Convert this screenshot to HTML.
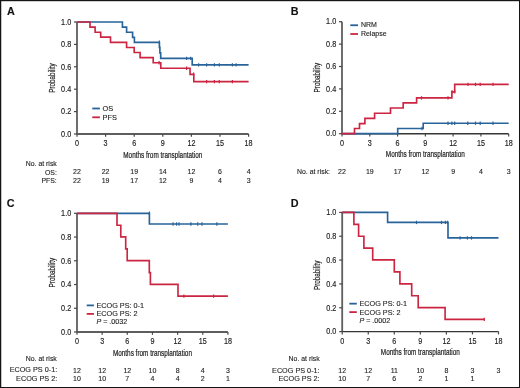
<!DOCTYPE html>
<html><head><meta charset="utf-8"><style>
html,body{margin:0;padding:0;background:#fff;}
body{width:520px;height:388px;overflow:hidden;font-family:"Liberation Sans",sans-serif;}
svg{display:block;will-change:transform;}
</style></head><body>
<svg width="520" height="388" viewBox="0 0 520 388" font-family="Liberation Sans, sans-serif">
<style>text{stroke:#1e1e1e;stroke-width:0.12px;} .tl{stroke-width:0.16px;} .cd{stroke-width:0.22px;}</style>
<rect x="0" y="0" width="520" height="388" fill="#fff"/>
<line x1="77" y1="22" x2="77" y2="134" stroke="#5e5e5e" stroke-width="1.8"/>
<line x1="77" y1="134" x2="248.6" y2="134" stroke="#5e5e5e" stroke-width="1.8"/>
<line x1="74" y1="134.0" x2="77" y2="134.0" stroke="#474747" stroke-width="1.2"/>
<line x1="74" y1="111.6" x2="77" y2="111.6" stroke="#474747" stroke-width="1.2"/>
<line x1="74" y1="89.2" x2="77" y2="89.2" stroke="#474747" stroke-width="1.2"/>
<line x1="74" y1="66.8" x2="77" y2="66.8" stroke="#474747" stroke-width="1.2"/>
<line x1="74" y1="44.4" x2="77" y2="44.4" stroke="#474747" stroke-width="1.2"/>
<line x1="74" y1="22.0" x2="77" y2="22.0" stroke="#474747" stroke-width="1.2"/>
<line x1="77.0" y1="134" x2="77.0" y2="136.8" stroke="#474747" stroke-width="1.2"/>
<line x1="105.6" y1="134" x2="105.6" y2="136.8" stroke="#474747" stroke-width="1.2"/>
<line x1="134.2" y1="134" x2="134.2" y2="136.8" stroke="#474747" stroke-width="1.2"/>
<line x1="162.8" y1="134" x2="162.8" y2="136.8" stroke="#474747" stroke-width="1.2"/>
<line x1="191.4" y1="134" x2="191.4" y2="136.8" stroke="#474747" stroke-width="1.2"/>
<line x1="220.0" y1="134" x2="220.0" y2="136.8" stroke="#474747" stroke-width="1.2"/>
<line x1="248.6" y1="134" x2="248.6" y2="136.8" stroke="#474747" stroke-width="1.2"/>
<text x="71.2" y="136.75" font-size="8.2" text-anchor="end" fill="#1e1e1e" font-weight="normal" textLength="10.1" lengthAdjust="spacingAndGlyphs" class="tl">0.0</text>
<text x="71.2" y="114.35" font-size="8.2" text-anchor="end" fill="#1e1e1e" font-weight="normal" textLength="10.1" lengthAdjust="spacingAndGlyphs" class="tl">0.2</text>
<text x="71.2" y="91.95" font-size="8.2" text-anchor="end" fill="#1e1e1e" font-weight="normal" textLength="10.1" lengthAdjust="spacingAndGlyphs" class="tl">0.4</text>
<text x="71.2" y="69.55" font-size="8.2" text-anchor="end" fill="#1e1e1e" font-weight="normal" textLength="10.1" lengthAdjust="spacingAndGlyphs" class="tl">0.6</text>
<text x="71.2" y="47.15" font-size="8.2" text-anchor="end" fill="#1e1e1e" font-weight="normal" textLength="10.1" lengthAdjust="spacingAndGlyphs" class="tl">0.8</text>
<text x="71.2" y="24.75" font-size="8.2" text-anchor="end" fill="#1e1e1e" font-weight="normal" textLength="10.1" lengthAdjust="spacingAndGlyphs" class="tl">1.0</text>
<text x="77.0" y="146.0" font-size="8.2" text-anchor="middle" fill="#1e1e1e" font-weight="normal" textLength="4.0" lengthAdjust="spacingAndGlyphs" class="tl">0</text>
<text x="105.6" y="146.0" font-size="8.2" text-anchor="middle" fill="#1e1e1e" font-weight="normal" textLength="4.0" lengthAdjust="spacingAndGlyphs" class="tl">3</text>
<text x="134.2" y="146.0" font-size="8.2" text-anchor="middle" fill="#1e1e1e" font-weight="normal" textLength="4.0" lengthAdjust="spacingAndGlyphs" class="tl">6</text>
<text x="162.8" y="146.0" font-size="8.2" text-anchor="middle" fill="#1e1e1e" font-weight="normal" textLength="4.0" lengthAdjust="spacingAndGlyphs" class="tl">9</text>
<text x="191.4" y="146.0" font-size="8.2" text-anchor="middle" fill="#1e1e1e" font-weight="normal" textLength="8.0" lengthAdjust="spacingAndGlyphs" class="tl">12</text>
<text x="220.0" y="146.0" font-size="8.2" text-anchor="middle" fill="#1e1e1e" font-weight="normal" textLength="8.0" lengthAdjust="spacingAndGlyphs" class="tl">15</text>
<text x="248.6" y="146.0" font-size="8.2" text-anchor="middle" fill="#1e1e1e" font-weight="normal" textLength="8.0" lengthAdjust="spacingAndGlyphs" class="tl">18</text>
<text transform="translate(54.6,78.0) rotate(-90)" x="0" y="0" font-size="9.4" text-anchor="middle" class="cd" fill="#1e1e1e" textLength="29.5" lengthAdjust="spacingAndGlyphs">Probability</text>
<text x="162.8" y="157.5" font-size="9" text-anchor="middle" fill="#1e1e1e" font-weight="normal" textLength="79" lengthAdjust="spacingAndGlyphs" class="cd">Months from transplantation</text>
<path d="M77,22 H122.4 V27.1 H126.6 V32.2 H132.6 V37.3 H134.4 V42.3 H159.4 V47.3 H159.9 V52.8 H160.7 V58.4 H192.2 V64.9 H248.6" stroke="#28649a" stroke-width="1.65" fill="none" stroke-linejoin="miter"/>
<line x1="159.4" y1="40.6" x2="159.4" y2="44.0" stroke="#28649a" stroke-width="1.2"/>
<line x1="186.6" y1="56.7" x2="186.6" y2="60.1" stroke="#28649a" stroke-width="1.2"/>
<line x1="190.7" y1="56.7" x2="190.7" y2="60.1" stroke="#28649a" stroke-width="1.2"/>
<line x1="198.6" y1="63.2" x2="198.6" y2="66.6" stroke="#28649a" stroke-width="1.2"/>
<line x1="206.6" y1="63.2" x2="206.6" y2="66.6" stroke="#28649a" stroke-width="1.2"/>
<line x1="214.4" y1="63.2" x2="214.4" y2="66.6" stroke="#28649a" stroke-width="1.2"/>
<line x1="219.3" y1="63.2" x2="219.3" y2="66.6" stroke="#28649a" stroke-width="1.2"/>
<line x1="232.4" y1="63.2" x2="232.4" y2="66.6" stroke="#28649a" stroke-width="1.2"/>
<line x1="236.1" y1="63.2" x2="236.1" y2="66.6" stroke="#28649a" stroke-width="1.2"/>
<path d="M77,22 H90 V27.1 H95.1 V32.2 H100.7 V37.1 H110.5 V42.4 H126.6 V47.5 H134.2 V52.5 H140.1 V57.6 H153.2 V62.7 H160.8 V68.2 H190.05 V74.3 H193.8 V81.6 H248.6" stroke="#cc2541" stroke-width="1.65" fill="none" stroke-linejoin="miter"/>
<line x1="159.1" y1="61.0" x2="159.1" y2="64.4" stroke="#cc2541" stroke-width="1.2"/>
<line x1="186.6" y1="66.5" x2="186.6" y2="69.9" stroke="#cc2541" stroke-width="1.2"/>
<line x1="193.6" y1="72.6" x2="193.6" y2="76.0" stroke="#cc2541" stroke-width="1.2"/>
<line x1="206.6" y1="79.9" x2="206.6" y2="83.3" stroke="#cc2541" stroke-width="1.2"/>
<line x1="214.4" y1="79.9" x2="214.4" y2="83.3" stroke="#cc2541" stroke-width="1.2"/>
<line x1="219.3" y1="79.9" x2="219.3" y2="83.3" stroke="#cc2541" stroke-width="1.2"/>
<line x1="232.4" y1="79.9" x2="232.4" y2="83.3" stroke="#cc2541" stroke-width="1.2"/>
<line x1="342" y1="21.7" x2="342" y2="133.7" stroke="#5e5e5e" stroke-width="1.8"/>
<line x1="342" y1="133.7" x2="508.7" y2="133.7" stroke="#363636" stroke-width="1.4"/>
<line x1="339" y1="133.7" x2="342" y2="133.7" stroke="#474747" stroke-width="1.2"/>
<line x1="339" y1="111.3" x2="342" y2="111.3" stroke="#474747" stroke-width="1.2"/>
<line x1="339" y1="88.9" x2="342" y2="88.9" stroke="#474747" stroke-width="1.2"/>
<line x1="339" y1="66.5" x2="342" y2="66.5" stroke="#474747" stroke-width="1.2"/>
<line x1="339" y1="44.1" x2="342" y2="44.1" stroke="#474747" stroke-width="1.2"/>
<line x1="339" y1="21.7" x2="342" y2="21.7" stroke="#474747" stroke-width="1.2"/>
<line x1="342.0" y1="133.7" x2="342.0" y2="136.5" stroke="#474747" stroke-width="1.2"/>
<line x1="369.78" y1="133.7" x2="369.78" y2="136.5" stroke="#474747" stroke-width="1.2"/>
<line x1="397.57" y1="133.7" x2="397.57" y2="136.5" stroke="#474747" stroke-width="1.2"/>
<line x1="425.35" y1="133.7" x2="425.35" y2="136.5" stroke="#474747" stroke-width="1.2"/>
<line x1="453.13" y1="133.7" x2="453.13" y2="136.5" stroke="#474747" stroke-width="1.2"/>
<line x1="480.92" y1="133.7" x2="480.92" y2="136.5" stroke="#474747" stroke-width="1.2"/>
<line x1="508.7" y1="133.7" x2="508.7" y2="136.5" stroke="#474747" stroke-width="1.2"/>
<text x="336.2" y="136.45" font-size="8.2" text-anchor="end" fill="#1e1e1e" font-weight="normal" textLength="10.1" lengthAdjust="spacingAndGlyphs" class="tl">0.0</text>
<text x="336.2" y="114.05" font-size="8.2" text-anchor="end" fill="#1e1e1e" font-weight="normal" textLength="10.1" lengthAdjust="spacingAndGlyphs" class="tl">0.2</text>
<text x="336.2" y="91.65" font-size="8.2" text-anchor="end" fill="#1e1e1e" font-weight="normal" textLength="10.1" lengthAdjust="spacingAndGlyphs" class="tl">0.4</text>
<text x="336.2" y="69.25" font-size="8.2" text-anchor="end" fill="#1e1e1e" font-weight="normal" textLength="10.1" lengthAdjust="spacingAndGlyphs" class="tl">0.6</text>
<text x="336.2" y="46.85" font-size="8.2" text-anchor="end" fill="#1e1e1e" font-weight="normal" textLength="10.1" lengthAdjust="spacingAndGlyphs" class="tl">0.8</text>
<text x="336.2" y="24.45" font-size="8.2" text-anchor="end" fill="#1e1e1e" font-weight="normal" textLength="10.1" lengthAdjust="spacingAndGlyphs" class="tl">1.0</text>
<text x="342.0" y="145.7" font-size="8.2" text-anchor="middle" fill="#1e1e1e" font-weight="normal" textLength="4.0" lengthAdjust="spacingAndGlyphs" class="tl">0</text>
<text x="369.78" y="145.7" font-size="8.2" text-anchor="middle" fill="#1e1e1e" font-weight="normal" textLength="4.0" lengthAdjust="spacingAndGlyphs" class="tl">3</text>
<text x="397.57" y="145.7" font-size="8.2" text-anchor="middle" fill="#1e1e1e" font-weight="normal" textLength="4.0" lengthAdjust="spacingAndGlyphs" class="tl">6</text>
<text x="425.35" y="145.7" font-size="8.2" text-anchor="middle" fill="#1e1e1e" font-weight="normal" textLength="4.0" lengthAdjust="spacingAndGlyphs" class="tl">9</text>
<text x="453.13" y="145.7" font-size="8.2" text-anchor="middle" fill="#1e1e1e" font-weight="normal" textLength="8.0" lengthAdjust="spacingAndGlyphs" class="tl">12</text>
<text x="480.92" y="145.7" font-size="8.2" text-anchor="middle" fill="#1e1e1e" font-weight="normal" textLength="8.0" lengthAdjust="spacingAndGlyphs" class="tl">15</text>
<text x="508.7" y="145.7" font-size="8.2" text-anchor="middle" fill="#1e1e1e" font-weight="normal" textLength="8.0" lengthAdjust="spacingAndGlyphs" class="tl">18</text>
<text transform="translate(319.6,77.7) rotate(-90)" x="0" y="0" font-size="9.4" text-anchor="middle" class="cd" fill="#1e1e1e" textLength="29.5" lengthAdjust="spacingAndGlyphs">Probability</text>
<text x="425.35" y="157.2" font-size="9" text-anchor="middle" fill="#1e1e1e" font-weight="normal" textLength="79" lengthAdjust="spacingAndGlyphs" class="cd">Months from transplantation</text>
<path d="M342,133.6 H397.7 V128.5 H423.2 V123.2 H508.7" stroke="#28649a" stroke-width="1.65" fill="none" stroke-linejoin="miter"/>
<line x1="422" y1="126.8" x2="422" y2="130.2" stroke="#28649a" stroke-width="1.2"/>
<line x1="448" y1="121.5" x2="448" y2="124.9" stroke="#28649a" stroke-width="1.2"/>
<line x1="451.9" y1="121.5" x2="451.9" y2="124.9" stroke="#28649a" stroke-width="1.2"/>
<line x1="454.7" y1="121.5" x2="454.7" y2="124.9" stroke="#28649a" stroke-width="1.2"/>
<line x1="467.8" y1="121.5" x2="467.8" y2="124.9" stroke="#28649a" stroke-width="1.2"/>
<line x1="475.5" y1="121.5" x2="475.5" y2="124.9" stroke="#28649a" stroke-width="1.2"/>
<line x1="480.2" y1="121.5" x2="480.2" y2="124.9" stroke="#28649a" stroke-width="1.2"/>
<line x1="493" y1="121.5" x2="493" y2="124.9" stroke="#28649a" stroke-width="1.2"/>
<path d="M342,133.6 H354.5 V128.5 H359.5 V123.6 H364.9 V118.3 H374.6 V113.2 H390.5 V108 H403.2 V102.8 H416.6 V97.9 H451.9 V91.9 H454.7 V84.4 H508.7" stroke="#cc2541" stroke-width="1.65" fill="none" stroke-linejoin="miter"/>
<line x1="421.5" y1="96.2" x2="421.5" y2="99.6" stroke="#cc2541" stroke-width="1.2"/>
<line x1="448" y1="96.2" x2="448" y2="99.6" stroke="#cc2541" stroke-width="1.2"/>
<line x1="452" y1="90.2" x2="452" y2="93.6" stroke="#cc2541" stroke-width="1.2"/>
<line x1="454.7" y1="90.2" x2="454.7" y2="93.6" stroke="#cc2541" stroke-width="1.2"/>
<line x1="468" y1="82.7" x2="468" y2="86.1" stroke="#cc2541" stroke-width="1.2"/>
<line x1="475.5" y1="82.7" x2="475.5" y2="86.1" stroke="#cc2541" stroke-width="1.2"/>
<line x1="480.2" y1="82.7" x2="480.2" y2="86.1" stroke="#cc2541" stroke-width="1.2"/>
<line x1="493" y1="82.7" x2="493" y2="86.1" stroke="#cc2541" stroke-width="1.2"/>
<line x1="77" y1="213.3" x2="77" y2="332" stroke="#5e5e5e" stroke-width="1.8"/>
<line x1="77" y1="332" x2="227.9" y2="332" stroke="#5e5e5e" stroke-width="1.8"/>
<line x1="74" y1="332.0" x2="77" y2="332.0" stroke="#474747" stroke-width="1.2"/>
<line x1="74" y1="308.26" x2="77" y2="308.26" stroke="#474747" stroke-width="1.2"/>
<line x1="74" y1="284.52" x2="77" y2="284.52" stroke="#474747" stroke-width="1.2"/>
<line x1="74" y1="260.78" x2="77" y2="260.78" stroke="#474747" stroke-width="1.2"/>
<line x1="74" y1="237.04" x2="77" y2="237.04" stroke="#474747" stroke-width="1.2"/>
<line x1="74" y1="213.3" x2="77" y2="213.3" stroke="#474747" stroke-width="1.2"/>
<line x1="77.0" y1="332" x2="77.0" y2="334.8" stroke="#474747" stroke-width="1.2"/>
<line x1="102.15" y1="332" x2="102.15" y2="334.8" stroke="#474747" stroke-width="1.2"/>
<line x1="127.3" y1="332" x2="127.3" y2="334.8" stroke="#474747" stroke-width="1.2"/>
<line x1="152.45" y1="332" x2="152.45" y2="334.8" stroke="#474747" stroke-width="1.2"/>
<line x1="177.6" y1="332" x2="177.6" y2="334.8" stroke="#474747" stroke-width="1.2"/>
<line x1="202.75" y1="332" x2="202.75" y2="334.8" stroke="#474747" stroke-width="1.2"/>
<line x1="227.9" y1="332" x2="227.9" y2="334.8" stroke="#474747" stroke-width="1.2"/>
<text x="71.2" y="334.75" font-size="8.2" text-anchor="end" fill="#1e1e1e" font-weight="normal" textLength="10.1" lengthAdjust="spacingAndGlyphs" class="tl">0.0</text>
<text x="71.2" y="311.01" font-size="8.2" text-anchor="end" fill="#1e1e1e" font-weight="normal" textLength="10.1" lengthAdjust="spacingAndGlyphs" class="tl">0.2</text>
<text x="71.2" y="287.27" font-size="8.2" text-anchor="end" fill="#1e1e1e" font-weight="normal" textLength="10.1" lengthAdjust="spacingAndGlyphs" class="tl">0.4</text>
<text x="71.2" y="263.53" font-size="8.2" text-anchor="end" fill="#1e1e1e" font-weight="normal" textLength="10.1" lengthAdjust="spacingAndGlyphs" class="tl">0.6</text>
<text x="71.2" y="239.79" font-size="8.2" text-anchor="end" fill="#1e1e1e" font-weight="normal" textLength="10.1" lengthAdjust="spacingAndGlyphs" class="tl">0.8</text>
<text x="71.2" y="216.05" font-size="8.2" text-anchor="end" fill="#1e1e1e" font-weight="normal" textLength="10.1" lengthAdjust="spacingAndGlyphs" class="tl">1.0</text>
<text x="77.0" y="344.0" font-size="8.2" text-anchor="middle" fill="#1e1e1e" font-weight="normal" textLength="4.0" lengthAdjust="spacingAndGlyphs" class="tl">0</text>
<text x="102.15" y="344.0" font-size="8.2" text-anchor="middle" fill="#1e1e1e" font-weight="normal" textLength="4.0" lengthAdjust="spacingAndGlyphs" class="tl">3</text>
<text x="127.3" y="344.0" font-size="8.2" text-anchor="middle" fill="#1e1e1e" font-weight="normal" textLength="4.0" lengthAdjust="spacingAndGlyphs" class="tl">6</text>
<text x="152.45" y="344.0" font-size="8.2" text-anchor="middle" fill="#1e1e1e" font-weight="normal" textLength="4.0" lengthAdjust="spacingAndGlyphs" class="tl">9</text>
<text x="177.6" y="344.0" font-size="8.2" text-anchor="middle" fill="#1e1e1e" font-weight="normal" textLength="8.0" lengthAdjust="spacingAndGlyphs" class="tl">12</text>
<text x="202.75" y="344.0" font-size="8.2" text-anchor="middle" fill="#1e1e1e" font-weight="normal" textLength="8.0" lengthAdjust="spacingAndGlyphs" class="tl">15</text>
<text x="227.9" y="344.0" font-size="8.2" text-anchor="middle" fill="#1e1e1e" font-weight="normal" textLength="8.0" lengthAdjust="spacingAndGlyphs" class="tl">18</text>
<text transform="translate(54.6,272.65) rotate(-90)" x="0" y="0" font-size="9.4" text-anchor="middle" class="cd" fill="#1e1e1e" textLength="29.5" lengthAdjust="spacingAndGlyphs">Probability</text>
<text x="152.45" y="355.5" font-size="9" text-anchor="middle" fill="#1e1e1e" font-weight="normal" textLength="79" lengthAdjust="spacingAndGlyphs" class="cd">Months from transplantation</text>
<path d="M77,213.3 H149.4 V224 H227.9" stroke="#28649a" stroke-width="1.65" fill="none" stroke-linejoin="miter"/>
<line x1="149.4" y1="211.6" x2="149.4" y2="215.0" stroke="#28649a" stroke-width="1.2"/>
<line x1="173.1" y1="222.3" x2="173.1" y2="225.7" stroke="#28649a" stroke-width="1.2"/>
<line x1="176.5" y1="222.3" x2="176.5" y2="225.7" stroke="#28649a" stroke-width="1.2"/>
<line x1="179" y1="222.3" x2="179" y2="225.7" stroke="#28649a" stroke-width="1.2"/>
<line x1="190.9" y1="222.3" x2="190.9" y2="225.7" stroke="#28649a" stroke-width="1.2"/>
<line x1="197.75" y1="222.3" x2="197.75" y2="225.7" stroke="#28649a" stroke-width="1.2"/>
<line x1="201.9" y1="222.3" x2="201.9" y2="225.7" stroke="#28649a" stroke-width="1.2"/>
<line x1="216.9" y1="222.3" x2="216.9" y2="225.7" stroke="#28649a" stroke-width="1.2"/>
<path d="M77,213.3 H117 V225.2 H120.8 V236.9 H125.7 V248.8 H127.2 V260.6 H149.3 V272.6 H150.4 V284.3 H178 V296.1 H227.9" stroke="#cc2541" stroke-width="1.65" fill="none" stroke-linejoin="miter"/>
<line x1="183.9" y1="294.4" x2="183.9" y2="297.8" stroke="#cc2541" stroke-width="1.2"/>
<line x1="213.6" y1="294.4" x2="213.6" y2="297.8" stroke="#cc2541" stroke-width="1.2"/>
<line x1="342.2" y1="212.4" x2="342.2" y2="331.6" stroke="#5e5e5e" stroke-width="1.8"/>
<line x1="342.2" y1="331.6" x2="498.5" y2="331.6" stroke="#363636" stroke-width="1.4"/>
<line x1="339.2" y1="331.6" x2="342.2" y2="331.6" stroke="#474747" stroke-width="1.2"/>
<line x1="339.2" y1="307.76" x2="342.2" y2="307.76" stroke="#474747" stroke-width="1.2"/>
<line x1="339.2" y1="283.92" x2="342.2" y2="283.92" stroke="#474747" stroke-width="1.2"/>
<line x1="339.2" y1="260.08" x2="342.2" y2="260.08" stroke="#474747" stroke-width="1.2"/>
<line x1="339.2" y1="236.24" x2="342.2" y2="236.24" stroke="#474747" stroke-width="1.2"/>
<line x1="339.2" y1="212.4" x2="342.2" y2="212.4" stroke="#474747" stroke-width="1.2"/>
<line x1="342.2" y1="331.6" x2="342.2" y2="334.4" stroke="#474747" stroke-width="1.2"/>
<line x1="368.25" y1="331.6" x2="368.25" y2="334.4" stroke="#474747" stroke-width="1.2"/>
<line x1="394.3" y1="331.6" x2="394.3" y2="334.4" stroke="#474747" stroke-width="1.2"/>
<line x1="420.35" y1="331.6" x2="420.35" y2="334.4" stroke="#474747" stroke-width="1.2"/>
<line x1="446.4" y1="331.6" x2="446.4" y2="334.4" stroke="#474747" stroke-width="1.2"/>
<line x1="472.45" y1="331.6" x2="472.45" y2="334.4" stroke="#474747" stroke-width="1.2"/>
<line x1="498.5" y1="331.6" x2="498.5" y2="334.4" stroke="#474747" stroke-width="1.2"/>
<text x="336.4" y="334.35" font-size="8.2" text-anchor="end" fill="#1e1e1e" font-weight="normal" textLength="10.1" lengthAdjust="spacingAndGlyphs" class="tl">0.0</text>
<text x="336.4" y="310.51" font-size="8.2" text-anchor="end" fill="#1e1e1e" font-weight="normal" textLength="10.1" lengthAdjust="spacingAndGlyphs" class="tl">0.2</text>
<text x="336.4" y="286.67" font-size="8.2" text-anchor="end" fill="#1e1e1e" font-weight="normal" textLength="10.1" lengthAdjust="spacingAndGlyphs" class="tl">0.4</text>
<text x="336.4" y="262.83" font-size="8.2" text-anchor="end" fill="#1e1e1e" font-weight="normal" textLength="10.1" lengthAdjust="spacingAndGlyphs" class="tl">0.6</text>
<text x="336.4" y="238.99" font-size="8.2" text-anchor="end" fill="#1e1e1e" font-weight="normal" textLength="10.1" lengthAdjust="spacingAndGlyphs" class="tl">0.8</text>
<text x="336.4" y="215.15" font-size="8.2" text-anchor="end" fill="#1e1e1e" font-weight="normal" textLength="10.1" lengthAdjust="spacingAndGlyphs" class="tl">1.0</text>
<text x="342.2" y="343.6" font-size="8.2" text-anchor="middle" fill="#1e1e1e" font-weight="normal" textLength="4.0" lengthAdjust="spacingAndGlyphs" class="tl">0</text>
<text x="368.25" y="343.6" font-size="8.2" text-anchor="middle" fill="#1e1e1e" font-weight="normal" textLength="4.0" lengthAdjust="spacingAndGlyphs" class="tl">3</text>
<text x="394.3" y="343.6" font-size="8.2" text-anchor="middle" fill="#1e1e1e" font-weight="normal" textLength="4.0" lengthAdjust="spacingAndGlyphs" class="tl">6</text>
<text x="420.35" y="343.6" font-size="8.2" text-anchor="middle" fill="#1e1e1e" font-weight="normal" textLength="4.0" lengthAdjust="spacingAndGlyphs" class="tl">9</text>
<text x="446.4" y="343.6" font-size="8.2" text-anchor="middle" fill="#1e1e1e" font-weight="normal" textLength="8.0" lengthAdjust="spacingAndGlyphs" class="tl">12</text>
<text x="472.45" y="343.6" font-size="8.2" text-anchor="middle" fill="#1e1e1e" font-weight="normal" textLength="8.0" lengthAdjust="spacingAndGlyphs" class="tl">15</text>
<text x="498.5" y="343.6" font-size="8.2" text-anchor="middle" fill="#1e1e1e" font-weight="normal" textLength="8.0" lengthAdjust="spacingAndGlyphs" class="tl">18</text>
<text transform="translate(319.8,275.3) rotate(-90)" x="0" y="0" font-size="9.4" text-anchor="middle" class="cd" fill="#1e1e1e" textLength="29.5" lengthAdjust="spacingAndGlyphs">Probability</text>
<text x="420.35" y="355.1" font-size="9" text-anchor="middle" fill="#1e1e1e" font-weight="normal" textLength="79" lengthAdjust="spacingAndGlyphs" class="cd">Months from transplantation</text>
<path d="M342.2,212.4 H387.6 V222.4 H448 V237.9 H498.5" stroke="#28649a" stroke-width="1.65" fill="none" stroke-linejoin="miter"/>
<line x1="416.5" y1="220.7" x2="416.5" y2="224.1" stroke="#28649a" stroke-width="1.2"/>
<line x1="441.5" y1="220.7" x2="441.5" y2="224.1" stroke="#28649a" stroke-width="1.2"/>
<line x1="445.4" y1="220.7" x2="445.4" y2="224.1" stroke="#28649a" stroke-width="1.2"/>
<line x1="447.5" y1="220.7" x2="447.5" y2="224.1" stroke="#28649a" stroke-width="1.2"/>
<line x1="460.1" y1="236.2" x2="460.1" y2="239.6" stroke="#28649a" stroke-width="1.2"/>
<line x1="467.4" y1="236.2" x2="467.4" y2="239.6" stroke="#28649a" stroke-width="1.2"/>
<line x1="471.5" y1="236.2" x2="471.5" y2="239.6" stroke="#28649a" stroke-width="1.2"/>
<path d="M342.2,212.4 H353.9 V224.3 H358.6 V236.2 H363.9 V248.1 H372.7 V259.9 H394.3 V271.9 H399.9 V283.8 H411.7 V295.7 H418.2 V307.6 H445.1 V319.4 H484.3" stroke="#cc2541" stroke-width="1.65" fill="none" stroke-linejoin="miter"/>
<line x1="484.3" y1="317.7" x2="484.3" y2="321.1" stroke="#cc2541" stroke-width="1.2"/>
<text x="7" y="14.8" font-size="10.8" text-anchor="start" fill="#111" font-weight="bold">A</text>
<text x="290.8" y="15" font-size="10.8" text-anchor="start" fill="#111" font-weight="bold">B</text>
<text x="6.8" y="206.9" font-size="10.8" text-anchor="start" fill="#111" font-weight="bold">C</text>
<text x="290.8" y="206.8" font-size="10.8" text-anchor="start" fill="#111" font-weight="bold">D</text>
<line x1="92.3" y1="108.5" x2="99.9" y2="108.5" stroke="#28649a" stroke-width="1.8"/>
<line x1="92.3" y1="117.3" x2="99.9" y2="117.3" stroke="#cc2541" stroke-width="1.8"/>
<text x="102.6" y="110.9" font-size="7.4" text-anchor="start" fill="#1e1e1e" font-weight="normal">OS</text>
<text x="102.6" y="119.7" font-size="7.4" text-anchor="start" fill="#1e1e1e" font-weight="normal">PFS</text>
<line x1="350.3" y1="25.25" x2="358" y2="25.25" stroke="#28649a" stroke-width="1.8"/>
<line x1="350.3" y1="34" x2="358" y2="34" stroke="#cc2541" stroke-width="1.8"/>
<text x="360.9" y="27.4" font-size="7" text-anchor="start" fill="#1e1e1e" font-weight="normal">NRM</text>
<text x="360.9" y="36.2" font-size="7" text-anchor="start" fill="#1e1e1e" font-weight="normal">Relapse</text>
<line x1="86.7" y1="305.4" x2="93.9" y2="305.4" stroke="#28649a" stroke-width="1.8"/>
<line x1="86.7" y1="313.9" x2="93.9" y2="313.9" stroke="#cc2541" stroke-width="1.8"/>
<text x="96.5" y="307.8" font-size="7.25" text-anchor="start" fill="#1e1e1e" font-weight="normal">ECOG PS: 0-1</text>
<text x="96.5" y="316.3" font-size="7.25" text-anchor="start" fill="#1e1e1e" font-weight="normal">ECOG PS: 2</text>
<text x="96.5" y="324.3" font-size="7.1" fill="#1e1e1e"><tspan font-style="italic">P</tspan> = .0032</text>
<line x1="349.3" y1="303.65" x2="356.8" y2="303.65" stroke="#28649a" stroke-width="1.8"/>
<line x1="349.3" y1="312.1" x2="356.8" y2="312.1" stroke="#cc2541" stroke-width="1.8"/>
<text x="359.5" y="306.2" font-size="7.25" text-anchor="start" fill="#1e1e1e" font-weight="normal">ECOG PS: 0-1</text>
<text x="359.5" y="314.6" font-size="7.25" text-anchor="start" fill="#1e1e1e" font-weight="normal">ECOG PS: 2</text>
<text x="359.5" y="323.2" font-size="7.1" fill="#1e1e1e"><tspan font-style="italic">P</tspan> = .0002</text>
<text x="56.8" y="166.2" font-size="6.9" text-anchor="end" fill="#1e1e1e" font-weight="normal">No. at risk</text>
<text x="56.8" y="174.7" font-size="6.9" text-anchor="end" fill="#1e1e1e" font-weight="normal">OS:</text>
<text x="56.8" y="183.3" font-size="6.9" text-anchor="end" fill="#1e1e1e" font-weight="normal">PFS:</text>
<text x="77.0" y="174.4" font-size="7" text-anchor="middle" fill="#1e1e1e" font-weight="normal">22</text>
<text x="105.6" y="174.4" font-size="7" text-anchor="middle" fill="#1e1e1e" font-weight="normal">22</text>
<text x="134.2" y="174.4" font-size="7" text-anchor="middle" fill="#1e1e1e" font-weight="normal">19</text>
<text x="162.8" y="174.4" font-size="7" text-anchor="middle" fill="#1e1e1e" font-weight="normal">14</text>
<text x="191.4" y="174.4" font-size="7" text-anchor="middle" fill="#1e1e1e" font-weight="normal">12</text>
<text x="220.0" y="174.4" font-size="7" text-anchor="middle" fill="#1e1e1e" font-weight="normal">6</text>
<text x="248.6" y="174.4" font-size="7" text-anchor="middle" fill="#1e1e1e" font-weight="normal">4</text>
<text x="77.0" y="183.2" font-size="7" text-anchor="middle" fill="#1e1e1e" font-weight="normal">22</text>
<text x="105.6" y="183.2" font-size="7" text-anchor="middle" fill="#1e1e1e" font-weight="normal">19</text>
<text x="134.2" y="183.2" font-size="7" text-anchor="middle" fill="#1e1e1e" font-weight="normal">17</text>
<text x="162.8" y="183.2" font-size="7" text-anchor="middle" fill="#1e1e1e" font-weight="normal">12</text>
<text x="191.4" y="183.2" font-size="7" text-anchor="middle" fill="#1e1e1e" font-weight="normal">9</text>
<text x="220.0" y="183.2" font-size="7" text-anchor="middle" fill="#1e1e1e" font-weight="normal">4</text>
<text x="248.6" y="183.2" font-size="7" text-anchor="middle" fill="#1e1e1e" font-weight="normal">3</text>
<text x="330" y="174.2" font-size="6.9" text-anchor="end" fill="#1e1e1e" font-weight="normal">No. at risk:</text>
<text x="342.0" y="174.2" font-size="7" text-anchor="middle" fill="#1e1e1e" font-weight="normal">22</text>
<text x="369.78" y="174.2" font-size="7" text-anchor="middle" fill="#1e1e1e" font-weight="normal">19</text>
<text x="397.57" y="174.2" font-size="7" text-anchor="middle" fill="#1e1e1e" font-weight="normal">17</text>
<text x="425.35" y="174.2" font-size="7" text-anchor="middle" fill="#1e1e1e" font-weight="normal">12</text>
<text x="453.13" y="174.2" font-size="7" text-anchor="middle" fill="#1e1e1e" font-weight="normal">9</text>
<text x="480.92" y="174.2" font-size="7" text-anchor="middle" fill="#1e1e1e" font-weight="normal">4</text>
<text x="508.7" y="174.2" font-size="7" text-anchor="middle" fill="#1e1e1e" font-weight="normal">3</text>
<text x="56.8" y="361.1" font-size="6.9" text-anchor="end" fill="#1e1e1e" font-weight="normal">No. at risk</text>
<text x="57.2" y="372.4" font-size="7.25" text-anchor="end" fill="#1e1e1e" font-weight="normal">ECOG PS 0-1:</text>
<text x="57.2" y="381.2" font-size="7.25" text-anchor="end" fill="#1e1e1e" font-weight="normal">ECOG PS 2:</text>
<text x="77.0" y="372.5" font-size="7" text-anchor="middle" fill="#1e1e1e" font-weight="normal">12</text>
<text x="102.15" y="372.5" font-size="7" text-anchor="middle" fill="#1e1e1e" font-weight="normal">12</text>
<text x="127.3" y="372.5" font-size="7" text-anchor="middle" fill="#1e1e1e" font-weight="normal">12</text>
<text x="152.45" y="372.5" font-size="7" text-anchor="middle" fill="#1e1e1e" font-weight="normal">10</text>
<text x="177.6" y="372.5" font-size="7" text-anchor="middle" fill="#1e1e1e" font-weight="normal">8</text>
<text x="202.75" y="372.5" font-size="7" text-anchor="middle" fill="#1e1e1e" font-weight="normal">4</text>
<text x="227.9" y="372.5" font-size="7" text-anchor="middle" fill="#1e1e1e" font-weight="normal">3</text>
<text x="77.0" y="381.2" font-size="7" text-anchor="middle" fill="#1e1e1e" font-weight="normal">10</text>
<text x="102.15" y="381.2" font-size="7" text-anchor="middle" fill="#1e1e1e" font-weight="normal">10</text>
<text x="127.3" y="381.2" font-size="7" text-anchor="middle" fill="#1e1e1e" font-weight="normal">7</text>
<text x="152.45" y="381.2" font-size="7" text-anchor="middle" fill="#1e1e1e" font-weight="normal">4</text>
<text x="177.6" y="381.2" font-size="7" text-anchor="middle" fill="#1e1e1e" font-weight="normal">4</text>
<text x="202.75" y="381.2" font-size="7" text-anchor="middle" fill="#1e1e1e" font-weight="normal">2</text>
<text x="227.9" y="381.2" font-size="7" text-anchor="middle" fill="#1e1e1e" font-weight="normal">1</text>
<text x="319.6" y="361.2" font-size="6.9" text-anchor="end" fill="#1e1e1e" font-weight="normal">No. at risk</text>
<text x="319.6" y="372.9" font-size="7.25" text-anchor="end" fill="#1e1e1e" font-weight="normal">ECOG PS 0-1:</text>
<text x="319.6" y="381.0" font-size="7.25" text-anchor="end" fill="#1e1e1e" font-weight="normal">ECOG PS 2:</text>
<text x="342.2" y="372.5" font-size="7" text-anchor="middle" fill="#1e1e1e" font-weight="normal">12</text>
<text x="368.25" y="372.5" font-size="7" text-anchor="middle" fill="#1e1e1e" font-weight="normal">12</text>
<text x="394.3" y="372.5" font-size="7" text-anchor="middle" fill="#1e1e1e" font-weight="normal">11</text>
<text x="420.35" y="372.5" font-size="7" text-anchor="middle" fill="#1e1e1e" font-weight="normal">10</text>
<text x="446.4" y="372.5" font-size="7" text-anchor="middle" fill="#1e1e1e" font-weight="normal">8</text>
<text x="472.45" y="372.5" font-size="7" text-anchor="middle" fill="#1e1e1e" font-weight="normal">3</text>
<text x="498.5" y="372.5" font-size="7" text-anchor="middle" fill="#1e1e1e" font-weight="normal">3</text>
<text x="342.2" y="381.1" font-size="7" text-anchor="middle" fill="#1e1e1e" font-weight="normal">10</text>
<text x="368.25" y="381.1" font-size="7" text-anchor="middle" fill="#1e1e1e" font-weight="normal">7</text>
<text x="394.3" y="381.1" font-size="7" text-anchor="middle" fill="#1e1e1e" font-weight="normal">6</text>
<text x="420.35" y="381.1" font-size="7" text-anchor="middle" fill="#1e1e1e" font-weight="normal">2</text>
<text x="446.4" y="381.1" font-size="7" text-anchor="middle" fill="#1e1e1e" font-weight="normal">1</text>
<text x="472.45" y="381.1" font-size="7" text-anchor="middle" fill="#1e1e1e" font-weight="normal">1</text>
<rect x="0" y="0" width="1.25" height="388" fill="#151515"/>
<rect x="0" y="0" width="520" height="1.2" fill="#151515"/>
<rect x="519" y="0" width="1" height="388" fill="#151515"/>
<rect x="0" y="387" width="520" height="1" fill="#151515"/>
</svg>
</body></html>
